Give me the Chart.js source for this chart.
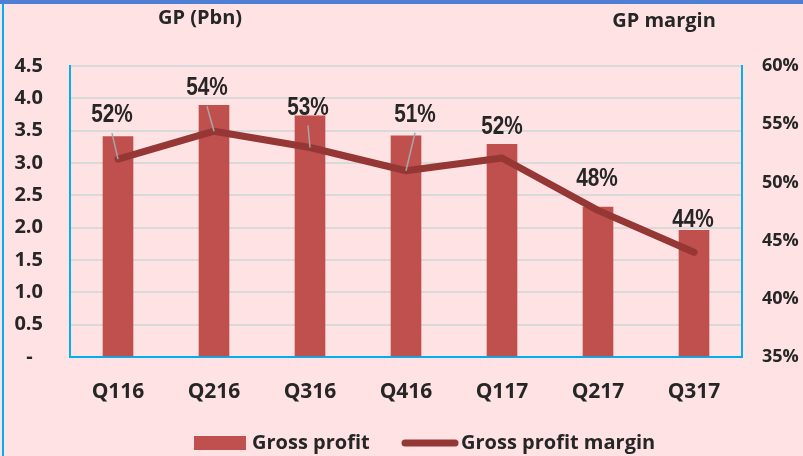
<!DOCTYPE html>
<html>
<head>
<meta charset="utf-8">
<title>GP and GP margin</title>
<script src="https://cdn.jsdelivr.net/npm/chart.js@4.4.1/dist/chart.umd.min.js"></script>
<style>
  html, body { margin: 0; padding: 0; background: #ffe3e4; }
  #wrap { width: 803px; height: 456px; }
</style>
</head>
<body>
<div id="wrap"><canvas id="gpChart" width="803" height="456"></canvas></div>
<script>
// ── Data ──

var quarters = ['Q116', 'Q216', 'Q316', 'Q416', 'Q117', 'Q217', 'Q317'];
var grossProfit = [3.41, 3.89, 3.73, 3.42, 3.29, 2.32, 1.96];   // Pbn
var grossMargin = [52.0, 54.4, 53.0, 51.0, 52.1, 47.6, 44.0];   // %
var gpTicks = [0, 0.5, 1.0, 1.5, 2.0, 2.5, 3.0, 3.5, 4.0, 4.5];
var marginTicks = [35, 40, 45, 50, 55, 60];

// label placement relative to each margin point (dx, dy, leader line)
var labelPlacement = [
  { dx: -6, dy: -44, leader: true },
  { dx: -7, dy: -43, leader: true },
  { dx: -2, dy: -40, leader: true },
  { dx: 9,  dy: -56, leader: true },
  { dx: 0,  dy: -31, leader: false },
  { dx: -1, dy: -32, leader: false },
  { dx: -1, dy: -32, leader: false }
];

var TEXT = '#262626';
var FONT = '"Open Sans", "DejaVu Sans", sans-serif';
var LABEL_FONT = '"Liberation Sans", Arial, sans-serif';
var FRAME = '#00b0f0';

Chart.defaults.font.family = FONT;
Chart.defaults.font.size = 21;
Chart.defaults.font.weight = 'bold';
Chart.defaults.color = TEXT;

function fixedTicks(list) {
  return function(axis) {
    axis.ticks = list.map(function(v) { return { value: v }; });
  };
}

// ── Plugins ──

var backdrop = {
  id: 'backdrop',
  beforeDraw: function(chart) {
    var ctx = chart.ctx;
    ctx.save();
    ctx.fillStyle = '#ffe3e4';
    ctx.fillRect(0, 0, chart.width, chart.height);
    ctx.fillStyle = '#4f7fd4';
    ctx.fillRect(0, 0, chart.width, 4);
    ctx.fillStyle = FRAME;
    ctx.fillRect(2, 4, 2, chart.height - 4);
    ctx.restore();
  }
};

var axisTitles = {
  id: 'axisTitles',
  afterDraw: function(chart) {
    var ctx = chart.ctx;
    ctx.save();
    ctx.font = 'bold 20px ' + FONT;
    ctx.fillStyle = TEXT;
    ctx.textAlign = 'center';
    ctx.textBaseline = 'middle';
    ctx.fillText('GP (Pbn)', 200, 18);
    ctx.fillText('GP margin', 664, 21);
    ctx.restore();
  }
};

// percentage labels, drawn narrow (horizontal squeeze) with grey leader lines
var marginLabels = {
  id: 'marginLabels',
  afterDatasetsDraw: function(chart) {
    var ctx = chart.ctx;
    var meta = chart.getDatasetMeta(1);
    var values = chart.data.datasets[1].data;
    ctx.save();
    meta.data.forEach(function(pt, i) {
      var p = labelPlacement[i];
      var lx = pt.x + p.dx;
      var ly = pt.y + p.dy;
      if (p.leader) {
        ctx.strokeStyle = '#a6a6a6';
        ctx.lineWidth = 1.5;
        ctx.beginPath();
        ctx.moveTo(lx, ly + 18);
        ctx.lineTo(pt.x, pt.y);
        ctx.stroke();
      }
      ctx.save();
      ctx.translate(lx, ly);
      ctx.scale(0.8, 1);
      ctx.font = 'bold 26px ' + LABEL_FONT;
      ctx.fillStyle = TEXT;
      ctx.textAlign = 'center';
      ctx.textBaseline = 'middle';
      ctx.fillText(Math.round(values[i]) + '%', 0, 0);
      ctx.restore();
    });
    ctx.restore();
  }
};

var bottomLegend = {
  id: 'bottomLegend',
  afterDraw: function(chart) {
    var ctx = chart.ctx;
    var bar = chart.data.datasets[0];
    var line = chart.data.datasets[1];
    var y = 443;
    ctx.save();
    ctx.fillStyle = bar.backgroundColor;
    ctx.fillRect(194, 436, 52, 14);
    ctx.strokeStyle = line.borderColor;
    ctx.lineWidth = 7;
    ctx.lineCap = 'round';
    ctx.beginPath();
    ctx.moveTo(405, y);
    ctx.lineTo(455, y);
    ctx.stroke();
    ctx.font = 'bold 20px ' + FONT;
    ctx.fillStyle = TEXT;
    ctx.textAlign = 'left';
    ctx.textBaseline = 'middle';
    ctx.fillText(bar.label, 252, y);
    ctx.fillText(line.label, 461, y);
    ctx.restore();
  }
};

// ── Chart ──

new Chart(document.getElementById('gpChart'), {
  type: 'bar',
  data: {
    labels: quarters,
    datasets: [{
      type: 'bar',
      label: 'Gross profit',
      data: grossProfit,
      backgroundColor: '#c0504d',
      barThickness: 30,
      yAxisID: 'y',
      order: 2
    }, {
      type: 'line',
      label: 'Gross profit margin',
      data: grossMargin,
      borderColor: '#953735',
      borderWidth: 7,
      borderCapStyle: 'round',
      borderJoinStyle: 'round',
      pointRadius: 0,
      tension: 0,
      yAxisID: 'y1',
      order: 1
    }]
  },
  options: {
    responsive: false,
    animation: false,
    events: [],
    layout: { padding: { top: 66, left: 0, right: 0, bottom: 0 } },
    plugins: { legend: { display: false }, tooltip: { enabled: false } },
    scales: {
      x: {
        grid: { display: false },
        border: { color: FRAME, width: 2 },
        ticks: { padding: 14, maxRotation: 0, font: { size: 21 } },
        afterFit: function(axis) { axis.height = 99; }
      },
      y: {
        position: 'left',
        min: 0,
        max: 4.5,
        afterBuildTicks: fixedTicks(gpTicks),
        grid: { color: '#d9d9d9', lineWidth: 2, drawTicks: false },
        border: { color: FRAME, width: 2 },
        ticks: {
          padding: 27,
          font: { size: 20 },
          callback: function(v) { return v === 0 ? '-  ' : v.toFixed(1); }
        },
        afterFit: function(axis) { axis.width = 70; }
      },
      y1: {
        position: 'right',
        min: 35,
        max: 60,
        afterBuildTicks: fixedTicks(marginTicks),
        grid: { display: false, drawTicks: false },
        border: { color: FRAME, width: 2 },
        ticks: {
          padding: 20,
          font: { size: 18 },
          callback: function(v) { return v + '%'; }
        },
        afterFit: function(axis) { axis.width = 61; }
      }
    }
  },
  plugins: [backdrop, axisTitles, marginLabels, bottomLegend]
});
</script>
</body>
</html>
